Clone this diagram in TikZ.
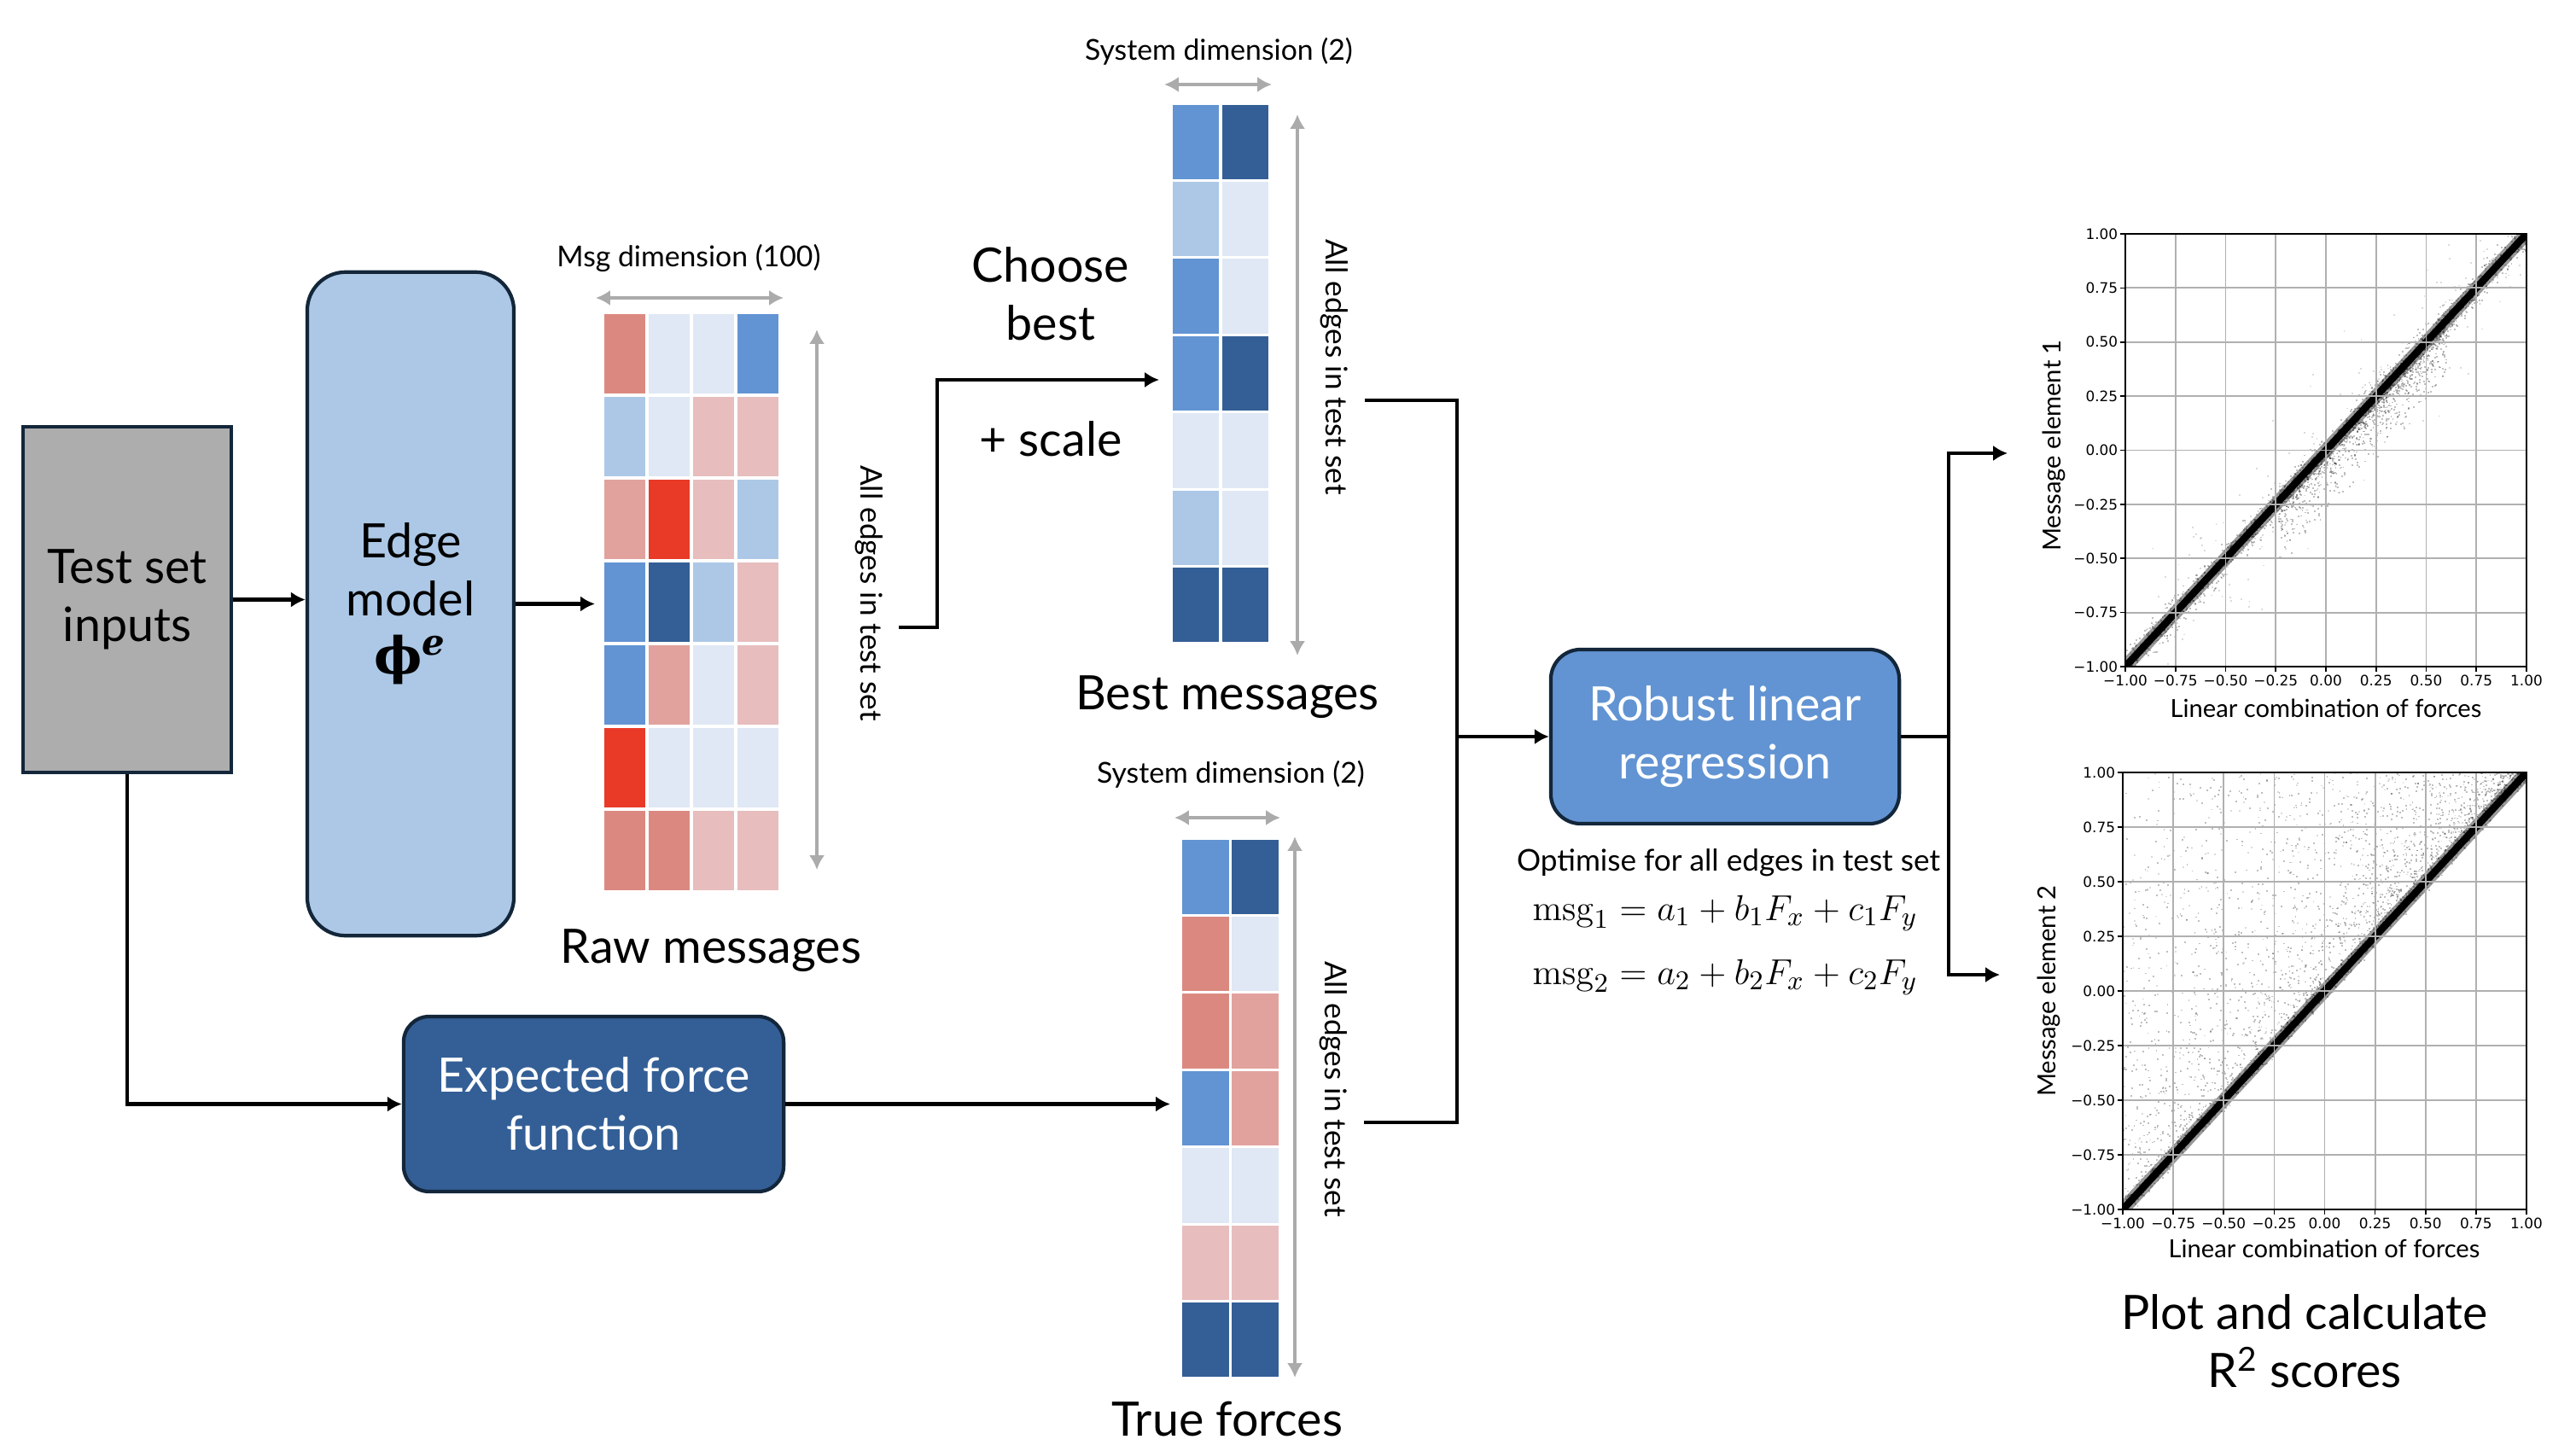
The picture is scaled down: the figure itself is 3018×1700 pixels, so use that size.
\documentclass[tikz,border=0pt]{standalone}
\usepackage{amsmath}
\usepackage[no-math]{fontspec}
\setmainfont{Lato}
\newfontfamily\dejavu{DejaVu Sans}
\newfontfamily\dejaserif{DejaVu Serif}
\usetikzlibrary{arrows.meta,calc}

\definecolor{navy}{HTML}{13263A}
\definecolor{boxgray}{HTML}{ADADAD}
\definecolor{lblue}{HTML}{ACC8E6}
\definecolor{dblue}{HTML}{345F96}
\definecolor{mblue}{HTML}{6294D3}
\definecolor{vlblue}{HTML}{DFE8F4}
\definecolor{lpink}{HTML}{E7BDBE}
\definecolor{mpink}{HTML}{E1A29E}
\definecolor{mred}{HTML}{DB8980}
\definecolor{bred}{HTML}{E83A27}
\definecolor{arrgray}{HTML}{ABABAB}
\definecolor{gridgray}{HTML}{B0B0B0}

\tikzset{
  conn/.style={line width=1.3pt, -{Latex[length=4.8pt,width=5.2pt]}},
  lineonly/.style={line width=1.3pt},
  dimarrow/.style={arrgray, line width=1.2pt, {Latex[length=4.8pt,width=5.2pt]}-{Latex[length=4.8pt,width=5.2pt]}},
  blockbox/.style={draw=navy, line width=1.2pt, align=center, inner sep=0pt},
  bigtext/.style={font=\fontsize{15.8}{19.3}\selectfont},
  smalltext/.style={font=\fontsize{9.6}{11}\selectfont},
  rottext/.style={font=\fontsize{10}{12}\selectfont, rotate=-90},
  plottext/.style={font=\fontsize{8.3}{10}\selectfont},
  ticklab/.style={font=\dejavu\fontsize{4.8}{5.5}\selectfont, inner sep=0pt},
  gridnode/.style={inner sep=0pt, outer sep=0pt},
  dot/.style={black, opacity=0.25},
}

% heat-map grid: x0, y0, cell width, cell height, columns, colours (row-major)
\newcommand\heatgrid[6]{%
  \foreach \cc [count=\k from 0] in {#6} {%
    \pgfmathtruncatemacro\rr{div(\k,#5)}%
    \pgfmathtruncatemacro\qq{mod(\k,#5)}%
    \fill[\cc] ({#1+\qq*#3+1.6},{#2+\rr*#4+1.6}) rectangle ++({#3-3.2},{#4-3.2});
  }}

\newcommand\plotframe{%
  \foreach \v in {-1,-0.75,-0.5,-0.25,0,0.25,0.5,0.75,1}{%
    \draw[gridgray, line width=0.5pt] (\v,-1) -- (\v,1);
    \draw[gridgray, line width=0.5pt] (-1,\v) -- (1,\v);
    \draw[line width=0.45pt] (-1,\v) -- (-1.025,\v);
    \draw[line width=0.45pt] (\v,-1) -- (\v,-1.022);
  }
  \draw[line width=0.55pt] (-1,-1) rectangle (1,1);
  \foreach \v/\t in {-1/−1.00,-0.75/−0.75,-0.5/−0.50,-0.25/−0.25,0/0.00,0.25/0.25,0.5/0.50,0.75/0.75,1/1.00}{%
    \node[ticklab, anchor=east] at (-1.035,\v) {\t};
    \node[ticklab, anchor=north] at (\v,-1.035) {\t};
  }}

\begin{document}
\begin{tikzpicture}[x=0.01cm, y=-0.01cm]
\useasboundingbox (0,0) rectangle (3018,1700);

% ---------------- blocks ----------------
\node[blockbox, fill=boxgray, minimum width=2.44cm, minimum height=4.05cm, bigtext] (test) at (149,702.5) {Test set\\inputs};
\node[blockbox, fill=lblue, rounded corners=0.45cm, minimum width=2.42cm, minimum height=7.77cm, bigtext] (edge) at (481,707.5) {Edge\\model\\{\dejaserif\bfseries\fontsize{17}{19.3}\selectfont ϕ\textsuperscript{\itshape e}}};
\node[blockbox, fill=dblue, text=white, rounded corners=0.3cm, minimum width=4.45cm, minimum height=2.05cm, bigtext] (eff) at (695.5,1293.5) {Expected force\\function};
\node[blockbox, fill=mblue, text=white, rounded corners=0.35cm, minimum width=4.08cm, minimum height=2.04cm, bigtext] (rlr) at (2021,863) {Robust linear\\regression};

% ---------------- heat maps ----------------
\node[gridnode, minimum width=2.08cm, minimum height=6.79cm] (raw) at (810,705.5) {};
\heatgrid{706}{366}{52}{97}{4}{mred,vlblue,vlblue,mblue,
  lblue,vlblue,lpink,lpink,
  mpink,bred,lpink,lblue,
  mblue,dblue,lblue,lpink,
  mblue,mpink,vlblue,lpink,
  bred,vlblue,vlblue,vlblue,
  mred,mred,lpink,lpink}

\node[gridnode, minimum width=1.16cm, minimum height=6.33cm] (best) at (1430,437.5) {};
\heatgrid{1372}{121}{58}{90.43}{2}{mblue,dblue,lblue,vlblue,mblue,vlblue,mblue,dblue,vlblue,vlblue,lblue,vlblue,dblue,dblue}

\node[gridnode, minimum width=1.17cm, minimum height=6.33cm] (truegrid) at (1441.5,1298.5) {};
\heatgrid{1383}{982}{58.5}{90.43}{2}{mblue,dblue,mred,vlblue,mred,mpink,mblue,mpink,vlblue,vlblue,lpink,lpink,dblue,dblue}

% dimension arrows
\draw[dimarrow] (698,349) -- (918,349);
\draw[dimarrow] (957,386) -- (957,1019);
\draw[dimarrow] (1364,99) -- (1490,99);
\draw[dimarrow] (1520,134) -- (1520,768);
\draw[dimarrow] (1376,958) -- (1500,958);
\draw[dimarrow] (1517,980) -- (1517,1614);

% labels
\node[smalltext] (msgdim) at (807,302) {Msg dimension (100)};
\node[smalltext] (sysdim1) at (1428,60) {System dimension (2)};
\node[smalltext] (sysdim2) at (1442,907) {System dimension (2)};
\node[rottext] (edges1) at (1018,695) {All edges in test set};
\node[rottext] (edges2) at (1563,430) {All edges in test set};
\node[rottext] (edges3) at (1562,1276) {All edges in test set};
\node[bigtext, anchor=base] (rawlab) at (833,1128) {Raw messages};
\node[bigtext, align=center] (choose) at (1231,344) {Choose\\best};
\node[bigtext, anchor=base] (scale) at (1231,534) {+ scale};
\node[bigtext, anchor=base] (bestlab) at (1438,831) {Best messages};
\node[bigtext, anchor=base] (truelab) at (1438,1682) {True forces};
\node[bigtext, align=center] (plotlab) at (2700,1571) {Plot and calculate\\R\textsuperscript{2} scores};
\node[font=\fontsize{10}{12}\selectfont, anchor=base] (optim) at (2025,1020) {Optimise for all edges in test set};
\node[font=\fontsize{12.5}{15}\selectfont, anchor=base west, inner sep=0pt] (eq1) at (1795,1078) {$\mathrm{msg}_1 = a_1 + b_1F_x + c_1F_y$};
\node[font=\fontsize{12.5}{15}\selectfont, anchor=base west, inner sep=0pt] (eq2) at (1795,1153) {$\mathrm{msg}_2 = a_2 + b_2F_x + c_2F_y$};

% ---------------- connectors ----------------
\coordinate (rawout) at (1053,735);
\coordinate (bestin) at (1358,445);
\coordinate (bestout) at (1599,469);
\coordinate (trueout) at (1598,1315);
\coordinate (merge) at (1707,863);
\coordinate (split) at (2283,863);
\coordinate (plotin1) at (2352,531);
\coordinate (plotin2) at (2343,1142);

\draw[conn] (test.east) -- (test.east -| edge.west);
\draw[conn, shorten >=0.09cm] (edge.east) -- (edge.east -| raw.west);
\draw[conn] (rawout) -- ++(45,0) |- (bestin);
\draw[conn] (test.south) |- (eff.west);
\draw[conn, shorten >=0.12cm] (eff.east) -- (eff.east -| truegrid.west);
\draw[lineonly] (bestout) -| (merge);
\draw[lineonly] (trueout) -| (merge);
\draw[conn] (merge) -- (rlr.west);
\draw[lineonly] (rlr.east) -- (split);
\draw[conn] (split) |- (plotin1);
\draw[conn] (split) |- (plotin2);

% ---------------- plot 1 ----------------
\node[gridnode, minimum width=4.7cm, minimum height=5.07cm] (plot1) at (2725,527.5) {};
\begin{scope}[shift={(2725,527.5)}, xscale=235, yscale=-253.5]
  \begin{scope}
    \clip (-1,-1) rectangle (1,1);
    \pgfmathsetseed{7}
    \foreach \i in {1,...,2200}{%
      \pgfmathsetmacro\px{rand}%
      \pgfmathsetmacro\py{\px+0.1*rand*rnd}%
      \fill[dot] (\px,\py) rectangle ++(0.008,0.007);
    }
    \foreach \i in {1,...,1100}{%
      \pgfmathsetmacro\px{0.18+0.42*rand}%
      \pgfmathsetmacro\py{\px-0.32*rnd*rnd}%
      \fill[dot] (\px,\py) rectangle ++(0.008,0.007);
    }
    \foreach \i in {1,...,250}{%
      \pgfmathsetmacro\px{rand}%
      \pgfmathsetmacro\py{\px+0.5*rand*rnd}%
      \fill[black, opacity=0.14] (\px,\py) rectangle ++(0.008,0.007);
    }
    \draw[black, opacity=0.4, line width=4.4pt] (-1.05,-1.05) -- (1.05,1.05);
    \draw[black, line width=2.4pt] (-1.05,-1.05) -- (1.05,1.05);
  \end{scope}
  \plotframe
\end{scope}
\node[plottext] (xlab1) at (2725,830) {Linear combination of forces};
\node[plottext, rotate=90] (ylab1) at (2406,522) {Message element 1};

% ---------------- plot 2 ----------------
\node[gridnode, minimum width=4.73cm, minimum height=5.12cm] (plot2) at (2723.5,1161) {};
\begin{scope}[shift={(2723.5,1161)}, xscale=236.5, yscale=-256]
  \begin{scope}
    \clip (-1,-1) rectangle (1,1);
    \pgfmathsetseed{11}
    \foreach \i in {1,...,1600}{%
      \pgfmathsetmacro\px{rand}%
      \pgfmathsetmacro\py{\px+0.06*rand*rnd}%
      \fill[dot] (\px,\py) rectangle ++(0.008,0.007);
    }
    \foreach \i in {1,...,2800}{%
      \pgfmathsetmacro\px{rand}%
      \pgfmathsetmacro\py{\px+(1-\px)*pow(rnd,3)}%
      \fill[dot] (\px,\py) rectangle ++(0.008,0.007);
    }
    \foreach \i in {1,...,450}{%
      \pgfmathsetmacro\px{rand}%
      \pgfmathsetmacro\py{\px+(1-\px)*rnd}%
      \fill[black, opacity=0.14] (\px,\py) rectangle ++(0.008,0.007);
    }
    \draw[black, opacity=0.4, line width=4.4pt] (-1.05,-1.05) -- (1.05,1.05);
    \draw[black, line width=2.4pt] (-1.05,-1.05) -- (1.05,1.05);
  \end{scope}
  \plotframe
\end{scope}
\node[plottext] (xlab2) at (2723,1463) {Linear combination of forces};
\node[plottext, rotate=90] (ylab2) at (2400,1161) {Message element 2};

\end{tikzpicture}
\end{document}
